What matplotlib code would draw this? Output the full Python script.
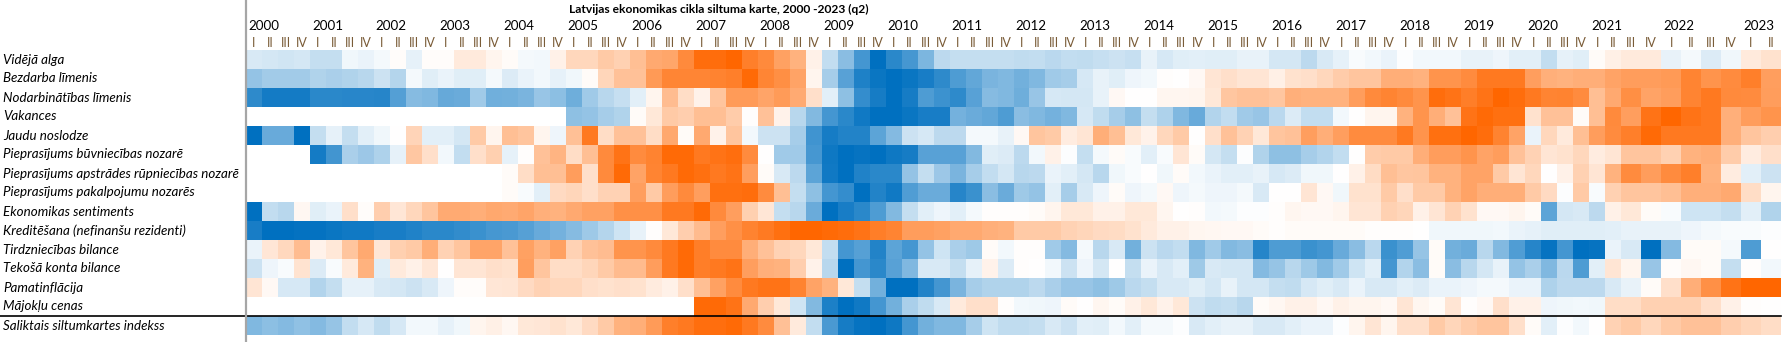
import numpy as np
import matplotlib
matplotlib.use("Agg")
import matplotlib.pyplot as plt
from matplotlib.colors import LinearSegmentedColormap
from matplotlib.lines import Line2D
import matplotlib.transforms as mtransforms

nan = np.nan

title = "Latvijas ekonomikas cikla siltuma karte, 2000 -2023 (q2)"
indicators = [
    "Vidējā alga", "Bezdarba līmenis", "Nodarbinātības līmenis", "Vakances",
    "Jaudu noslodze", "Pieprasījums būvniecības nozarē",
    "Pieprasījums apstrādes rūpniecības nozarē", "Pieprasījums pakalpojumu nozarēs",
    "Ekonomikas sentiments", "Kreditēšana (nefinanšu rezidenti)",
    "Tirdzniecības bilance", "Tekošā konta bilance", "Pamatinflācija",
    "Mājokļu cenas", "Saliktais siltumkartes indekss",
]
years = list(range(2000, 2024))
quarter_names = ["I", "II", "III", "IV"]
n_periods = 94  # 2000 Q1 .. 2023 Q2

vid_alga = [-1.5, -1.7, -1.8, -1.7, -2.3, -2.3, -0.6, -0.8, -0.4, 0.2, -1.0, 0.2, 0.2, 1.4, 1.4, 0.7,
            0.3, -0.4, -0.5, 0.9, 2.6, 2.6, 3.5, 3.0, 4.2, 5.6, 5.8, 7.6, 9.5, 9.5, 10, 8.3,
            7.6, 6.1, 5.0, 0.9, -2.4, -4.6, -7.3, -10, -8.3, -7.2, -5.1, -2.6, -2.3, -2.3, -2.3, -2.3,
            -2.5, -2.4, -2.7, -2.4, -2.5, -2.2, -2.0, -2.2, -0.9, -1.6, -1.2, -1.1, -1.2, -1.2, -0.9, -0.9,
            -1.7, -1.7, -2.6, -1.5, -1.0, -0.3, -0.5, -0.8, -0.1, -0.5, -0.5, -0.5, -0.9, -0.9, -0.7, -1.1,
            -1.1, -2.4, -1.0, -1.2, 0.3, 1.0, 1.4, 1.4, -0.9, -0.4, -1.4, -0.6, 1.4, 1.9]
bezdarbs = [-4.2, -3.6, -3.6, -3.6, -3.1, -3.3, -3.1, -2.8, -2.0, -2.9, -0.4, -1.2, -0.8, -1.2, -1.2, -0.4,
            -1.4, -0.8, -0.5, -1.0, -0.6, 0.3, 2.7, 4.0, 4.0, 6.6, 7.9, 7.9, 7.9, 8.1, 8.3, 9.7,
            7.9, 7.3, 6.0, 0.7, -3.5, -6.5, -8.8, -9.6, -10, -9.6, -9.0, -8.2, -6.9, -6.1, -5.2, -5.0,
            -5.5, -5.0, -3.7, -3.5, -1.6, -0.9, -1.2, -0.7, -0.5, 0.1, 0, 0.4, 1.7, 2.1, 1.7, 1.7,
            1.0, 1.9, 2.1, 2.6, 3.3, 3.8, 3.8, 5.3, 5.3, 5.0, 7.0, 7.0, 7.5, 8.7, 8.7, 8.7,
            6.3, 5.2, 5.0, 5.3, 5.3, 6.0, 6.4, 6.4, 6.6, 8.0, 7.0, 7.5, 8.3, 6.3]
nodarbinatiba = [-8.2, -9.2, -9.2, -9.2, -8.3, -8.3, -8.4, -8.4, -8.5, -6.7, -4.7, -5.0, -6.0, -5.8, -3.7, -5.6,
                 -5.5, -5.2, -4.0, -4.5, -5.7, -3.7, -2.8, -2.2, -1.1, 0.7, 4.3, 2.2, 0.8, 3.8, 6.5, 6.5,
                 5.9, 6.5, 5.5, 2.1, -1.1, -4.4, -7.9, -9.1, -10, -9.1, -6.9, -7.6, -8.2, -6.5, -4.7, -5.0,
                 -5.7, -4.0, -1.6, -1.7, -1.7, -0.9, 0.4, 0, 0, 0.6, 0.6, 0.7, 1.5, 3.7, 4.0, 4.0,
                 3.7, 5.2, 5.0, 5.0, 5.0, 6.4, 7.6, 8.0, 7.6, 7.0, 9.5, 9.1, 8.4, 9.1, 10, 9.5,
                 8.7, 8.0, 8.1, 7.5, 4.2, 5.6, 7.3, 6.0, 6.4, 8.0, 8.7, 7.6, 7.5, 6.4]
vakances = [nan] * 20 + [-4.4, -4.2, -3.5, -3.1, 0.3, 1.5, 3.5, 3.2, 4.2, 4.2, 3.3, 0.1,
            4.0, 0.8, -2.8, -4.9, -7.3, -8.3, -9.3, -10, -10, -9.6, -9.0, -9.0, -5.4, -5.8, -6.1, -6.9,
            -4.6, -5.0, -5.4, -5.0, -1.6, -2.5, -3.5, -4.4, -2.3, -3.2, -5.0, -5.9, -3.0, -2.4, -3.7, -4.0,
            -2.7, -1.4, -2.4, -2.4, -0.5, 0, 0.7, 0.7, 5.0, 7.0, 5.3, 4.0, 9.1, 9.7, 9.3, 9.3,
            1.9, 4.0, 4.0, 0.3, 4.2, 7.6, 6.3, 9.1, 10, 9.1, 8.7, 5.2, 6.4, 7.0]
jaudu_noslodze = [-10, -5.9, -5.9, -10, -2.3, -1.0, -2.3, -1.1, -0.6, 0, 2.8, -1.1, -1.1, -1.7, 3.5, 0.7,
                  4.2, 3.8, 0.7, -0.7, 4.1, 8.7, 2.2, 4.0, 4.0, 2.2, 5.7, 0.3, 5.6, 0.8, 3.8, -0.5,
                  -2.0, -2.0, -3.5, -7.5, -9.1, -8.6, -8.6, -6.4, -4.8, -2.0, -1.6, -2.6, -2.6, -0.4, -0.4, -0.9,
                  0.4, 3.8, 3.5, 1.2, 1.7, 5.3, 4.2, 1.5, 0.8, 2.6, 3.5, 0, 2.1, 4.0, 2.9, 1.5,
                  3.8, 4.0, 6.3, 5.3, 6.3, 7.5, 7.5, 7.5, 8.7, 7.0, 9.3, 9.3, 10, 9.5, 8.1, 6.0,
                  -0.8, 2.6, 1.4, 4.2, 6.4, 7.5, 8.3, 9.7, 8.7, 8.7, 8.7, 5.2, 3.8, 3.2]
buvnieciba = [nan] * 4 + [-9.2, -7.4, -3.3, -3.9, -3.2, -1.0, 3.6, 2.1, -0.5, -2.4, 2.1, 3.1,
              -1.0, 0.1, 4.0, 4.9, 2.2, 4.2, 7.6, 9.1, 7.5, 8.1, 9.7, 9.7, 8.7, 9.1, 9.4, 7.5,
              0, -3.7, -3.7, -7.2, -9.4, -10, -9.7, -10, -9.4, -9.1, -6.5, -6.5, -6.5, -4.9, -1.2, -1.4,
              -2.6, -0.5, 0.9, -0.1, -2.3, -0.4, 0.3, -0.3, -1.1, -0.3, 1.7, 0.3, -1.7, -2.3, -0.1, -3.1,
              -4.4, -4.4, -3.5, -3.0, -2.4, 0, 3.3, 3.5, 3.5, 5.3, 6.4, 6.4, 7.0, 6.0, 6.4, 4.0,
              2.9, 1.7, 1.9, 2.6, 1.2, 1.7, 3.8, 3.8, 3.0, 5.0, 5.3, 3.3, 1.2, 2.1]
apstrade = [nan] * 16 + [0.3, 2.2, 4.2, 4.2, 6.4, 2.1, 7.6, 9.7, 6.0, 8.0, 8.7, 9.7, 9.3, 8.7, 9.1, 6.3,
            0.3, -1.5, -2.6, -6.4, -9.3, -10, -8.7, -8.3, -8.3, -4.2, -2.3, -3.9, -5.2, -3.5, -2.4, -1.7,
            -2.8, -2.6, -0.8, -1.1, -1.7, -2.8, -0.6, -0.3, 0, -0.6, 0.3, -0.5, -0.8, -1.1, -1.1, -0.9,
            -1.6, -1.4, -0.6, -0.6, 0, 0.9, 2.3, 4.2, 3.7, 3.8, 5.0, 5.0, 6.0, 6.0, 3.5, 1.7,
            2.6, 0, 0.9, 3.0, 1.7, 5.0, 7.5, 6.4, 7.5, 8.3, 5.0, 1.2, -1.1, -2.0]
pakalpojumi = [nan] * 16 + [0.3, -0.3, -1.1, 2.4, 2.7, 2.1, 2.9, 2.9, 6.3, 3.5, 6.4, 7.6, 6.3, 9.3, 9.3, 9.5,
               7.5, 4.2, -2.3, -4.4, -7.3, -7.9, -10, -8.6, -9.3, -6.8, -5.8, -5.8, -8.5, -7.7, -4.6, -5.8,
               -3.8, -4.2, -1.1, -3.5, -1.5, -0.7, 0.3, -0.7, -0.4, 0.4, -0.7, -0.4, -0.7, -0.7, -0.4, -1.5,
               0, 0, 1.7, 0.4, -0.6, 1.9, 1.9, 3.5, 2.1, 3.5, 3.5, 5.0, 6.0, 5.3, 5.3, 5.3,
               3.5, 2.4, -0.1, 3.5, -0.3, 3.0, 3.8, 3.8, 4.2, 5.2, 5.2, 5.6, 2.2, 0.7]
sentiments = [-10, -2.4, -2.8, 0.5, -1.2, -0.8, 2.1, 0.2, 3.2, 1.6, 2.6, 3.8, 5.5, 5.5, 5.3, 5.7,
              5.5, 5.9, 5.2, 5.0, 5.6, 6.1, 6.1, 7.2, 7.2, 7.2, 8.7, 8.7, 9.7, 7.6, 6.3, 3.1,
              1.6, -2.3, -2.8, -5.8, -10, -9.0, -8.3, -6.9, -4.9, -2.3, -1.1, -0.7, -1.1, -0.4, 0.1, 0.1,
              0.1, 0.3, 0.7, 1.5, 1.5, 0.9, 0.9, 1.5, 1.5, 0.6, 0, 0.1, -0.5, -0.4, -0.1, -0.1,
              0.1, 0.6, 0.4, 0.4, 0.7, 1.7, 1.7, 3.0, 2.7, 0.9, 1.7, 2.9, 1.9, 0.4, 0.4, 0.7,
              0.3, -6.4, -1.7, -1.5, -2.6, 0.9, 1.5, 0.3, -0.3, -1.9, -1.9, -2.3, -1.1, -3.1]
kreditesana = [-9.0, -10, -10, -9.8, -9.8, -9.6, -9.3, -9.3, -9.0, -9.0, -8.7, -8.3, -8.3, -8.0, -7.7, -7.2,
               -7.1, -6.6, -5.9, -5.4, -4.7, -3.8, -2.9, -1.9, -0.9, 0.1, 1.5, 3.2, 4.4, 6.3, 7.2, 8.1,
               8.6, 9.3, 10, 10, 9.7, 9.5, 9.1, 8.4, 8.0, 6.4, 6.4, 6.1, 5.6, 5.6, 5.2, 5.0,
               3.5, 3.5, 3.5, 2.9, 2.7, 2.4, 2.3, 1.9, 1.4, 0.9, 0.9, 0.6, 0.5, 0.4, 0.4, 0.3,
               0.1, 0.3, 0.3, 0.3, 0.3, 0.3, 0.1, 0.1, 0.1, 0, -0.6, -0.6, -0.6, -0.6, -0.5, -0.8,
               -1.0, -1.2, -1.2, -1.2, -1.2, -1.1, -0.9, -0.9, -0.9, -0.7, -0.4, -0.3, -0.3, -0.1]
tirdzniecibas_bilance = [-0.8, 1.6, 2.5, 4.3, 0.8, 1.5, 3.8, 5.6, 1.6, 3.1, 3.5, 5.3, 2.9, 3.8, 5.9, 5.9,
                         4.0, 6.1, 5.0, 6.1, 2.9, 4.0, 4.3, 7.0, 7.0, 7.6, 8.7, 9.7, 8.4, 7.5, 7.5, 5.3,
                         4.0, 2.9, 2.6, 1.5, -2.4, -7.3, -6.6, -8.6, -6.4, -7.3, -4.2, -1.9, -3.3, -3.8, 0.3, -0.5,
                         0.1, 0.1, -3.7, -4.8, -0.4, -2.8, -1.5, -5.5, -2.0, -2.7, -2.4, -5.0, -3.7, -4.9, -4.6, -8.5,
                         -6.9, -6.9, -7.7, -7.3, -5.9, -4.6, -2.7, -7.7, -6.8, -4.1, 0.3, -5.5, -5.8, -2.8, -4.9, -6.8,
                         -8.5, -9.7, -7.3, -10, -9.7, -0.8, -1.5, -10, -4.8, 0.3, 0.3, -0.4, -6.9, 0]
tekosa_konta_bilance = [-2.0, -0.7, -0.3, 1.8, -1.4, -0.3, 1.4, 5.0, -1.2, 1.4, 0.9, 1.6, 0, 1.7, 1.7, 2.1,
                        1.9, 6.3, 3.8, 2.2, 2.2, 2.7, 3.5, 4.4, 4.4, 6.4, 8.7, 9.7, 8.4, 8.7, 9.1, 6.3,
                        5.2, 5.0, 3.2, 0.8, -2.8, -10, -7.3, -8.3, -6.5, -5.0, -1.5, -1.5, -2.3, -1.0, 0.8, -1.4,
                        0.1, 0, -0.5, -2.0, -0.7, -1.7, 0, -2.3, -0.8, -1.5, -1.1, -3.8, -1.5, -1.7, -1.7, -4.8,
                        -4.1, -2.8, -3.8, -4.9, -3.7, -1.9, -1.1, -7.3, -3.0, -4.6, 0.3, -4.6, -2.8, -1.7, -0.9, -4.2,
                        -3.3, -5.0, -2.7, -6.9, -1.1, 1.7, 0.7, -4.0, 0.2, 0.5, 0.3, -2.3, 0.1, -0.5]
pamatinflacija = [1.7, 0.4, -1.6, -1.6, -3.0, -2.3, -1.0, -1.0, -1.5, -1.7, -2.0, -1.5, -0.7, 0.2, 0.2, 1.6,
                  1.7, 2.4, 2.9, 2.6, 2.6, 2.1, 1.9, 2.1, 1.9, 1.3, 0.9, 2.1, 4.2, 6.1, 7.5, 8.7,
                  9.1, 9.1, 8.1, 6.0, 5.0, 1.5, -2.3, -5.5, -10, -10, -8.6, -7.3, -5.2, -3.5, -3.1, -3.1,
                  -3.1, -2.6, -3.3, -4.0, -4.0, -4.4, -3.8, -2.7, -2.3, -1.5, -1.5, -1.2, -1.7, -0.9, -1.7, -1.7,
                  -2.3, -2.5, -1.6, -1.2, -1.5, -0.8, -1.5, -1.5, -1.1, -1.4, -0.8, -0.8, -0.7, -0.4, -0.4, -0.8,
                  -0.8, -3.2, -2.6, -2.6, -2.6, -1.5, -0.9, 0.3, 2.1, 5.3, 7.2, 9.1, 10, 10]
majoklu_cenas = [nan] * 28 + [9.7, 9.7, 9.1, 5.6,
                 3.2, 1.5, -1.9, -4.9, -8.9, -10, -9.3, -7.3, -5.5, -3.3, -2.5, -1.5, 1.4, 2.1, 2.1, 0.1,
                 -0.5, -0.6, -0.7, 0.3, 0, 0.6, 0.3, 0.9, 1.5, 0.8, 1.5, -2.0, -2.5, -2.3, -2.8, 0.3,
                 0.5, 0.9, 0.9, 0.4, 0.9, 0.7, 0.7, 0.4, 1.7, 0.6, 0.3, 1.7, 0.1, 0.4, 2.1, 0.9,
                 0.9, -0.7, -0.6, -0.5, -0.6, 2.2, 2.2, 3.0, 3.0, 3.0, 2.1, 0.9, 0.1, 0]
saliktais_indekss = [-5.0, -4.5, -4.8, -4.3, -4.8, -4.1, -2.4, -1.6, -2.5, -1.6, -0.5, -0.5, -1.0, -0.6, 0.7, 1.0,
                     0.5, 1.5, 1.6, 1.9, 1.5, 2.4, 3.5, 5.0, 5.3, 6.5, 8.3, 8.7, 9.4, 9.4, 9.7, 8.7,
                     7.5, 4.1, 1.4, -2.4, -7.1, -9.1, -9.7, -10, -9.4, -7.3, -5.5, -5.0, -5.0, -3.5, -1.9, -2.5,
                     -2.5, -2.3, -1.5, -2.0, -1.1, -1.2, -0.5, -1.1, -0.4, -0.4, -0.1, -1.5, -1.1, -0.9, -0.9, -1.5,
                     -1.5, -1.1, -0.8, -0.8, -0.1, 0.7, 1.7, 0.7, 2.1, 2.1, 3.5, 2.7, 3.3, 3.8, 3.8, 2.1,
                     0.3, -1.1, -0.1, -0.5, 0, 2.9, 3.5, 2.6, 3.5, 4.0, 4.0, 3.2, 2.7, 2.2]

rows = [vid_alga, bezdarbs, nodarbinatiba, vakances, jaudu_noslodze, buvnieciba, apstrade,
        pakalpojumi, sentiments, kreditesana, tirdzniecibas_bilance, tekosa_konta_bilance,
        pamatinflacija, majoklu_cenas, saliktais_indekss]
data = np.ma.masked_invalid(np.array(rows, dtype=float))
n_rows, n_cols = data.shape

# ---------------- layout ----------------
W_PX, H_PX = 1789, 342
fig = plt.figure(figsize=(W_PX / 100, H_PX / 100), dpi=100)
plt.rcParams["font.family"] = ["Lato", "DejaVu Sans"]

left_px, right_px, top_px, bottom_px = 246, 1781, 50, 335
ax = fig.add_axes([left_px / W_PX, 1 - bottom_px / H_PX,
                   (right_px - left_px) / W_PX, (bottom_px - top_px) / H_PX])

# later columns in the sheet are a bit wider (from 2021 Q3 on)
col_w = np.array([1.25 if i >= 86 else 1.0 for i in range(n_cols)])
x_edges = np.concatenate([[0], np.cumsum(col_w)])
y_edges = np.arange(n_rows + 1)

cmap = LinearSegmentedColormap.from_list("heat", ["#0070C0", "#FFFFFF", "#FF6600"])
cmap.set_bad("white")
ax.pcolormesh(x_edges, y_edges, data, cmap=cmap, vmin=-10, vmax=10, shading="flat")
ax.set_xlim(x_edges[0], x_edges[-1])
ax.set_ylim(n_rows, 0)
ax.axis("off")

fig.canvas.draw()
renderer = fig.canvas.get_renderer()


def fit_size(text, target_px, **kw):
    t = fig.text(0, 0, text, fontsize=10, **kw)
    w = t.get_window_extent(renderer).width
    t.remove()
    return 10 * target_px / w


# title
tsize = fit_size(title, 300, fontweight="bold")
fig.text(569 / W_PX, 1 - 9 / H_PX, title, fontsize=tsize, fontweight="bold",
         ha="left", va="center", color="black")

# year and quarter labels
tr_top = mtransforms.blended_transform_factory(ax.transData, fig.transFigure)
for i in range(n_cols):
    y, q = years[i // 4], i % 4
    xc = (x_edges[i] + x_edges[i + 1]) / 2
    ax.text(xc, 1 - 43 / H_PX, quarter_names[q], transform=tr_top, fontsize=9.0,
            ha="center", va="center", color="#7a5c38")
    if q == 0:
        ax.text(x_edges[i] + 0.12, 1 - 26 / H_PX, str(y), transform=tr_top, fontsize=9.6,
                ha="left", va="center", color="black")

# row labels
lsize = fit_size(max(indicators, key=len), 236, style="italic")
tr_left = mtransforms.blended_transform_factory(fig.transFigure, ax.transData)
for r, name in enumerate(indicators):
    ax.text(3 / W_PX, r + 0.5, name, transform=tr_left, fontsize=lsize, style="italic",
            ha="left", va="center", color="black")

# separator lines
ax_right = right_px / W_PX
fig.add_artist(Line2D([0, ax_right], [n_rows - 1, n_rows - 1], color="black", lw=1.2,
                      transform=tr_left))
fig.add_artist(Line2D([left_px / W_PX, left_px / W_PX], [0, 1], color="#a6a6a6", lw=1.6,
                      transform=fig.transFigure))

fig.savefig("out.png", dpi=100)
